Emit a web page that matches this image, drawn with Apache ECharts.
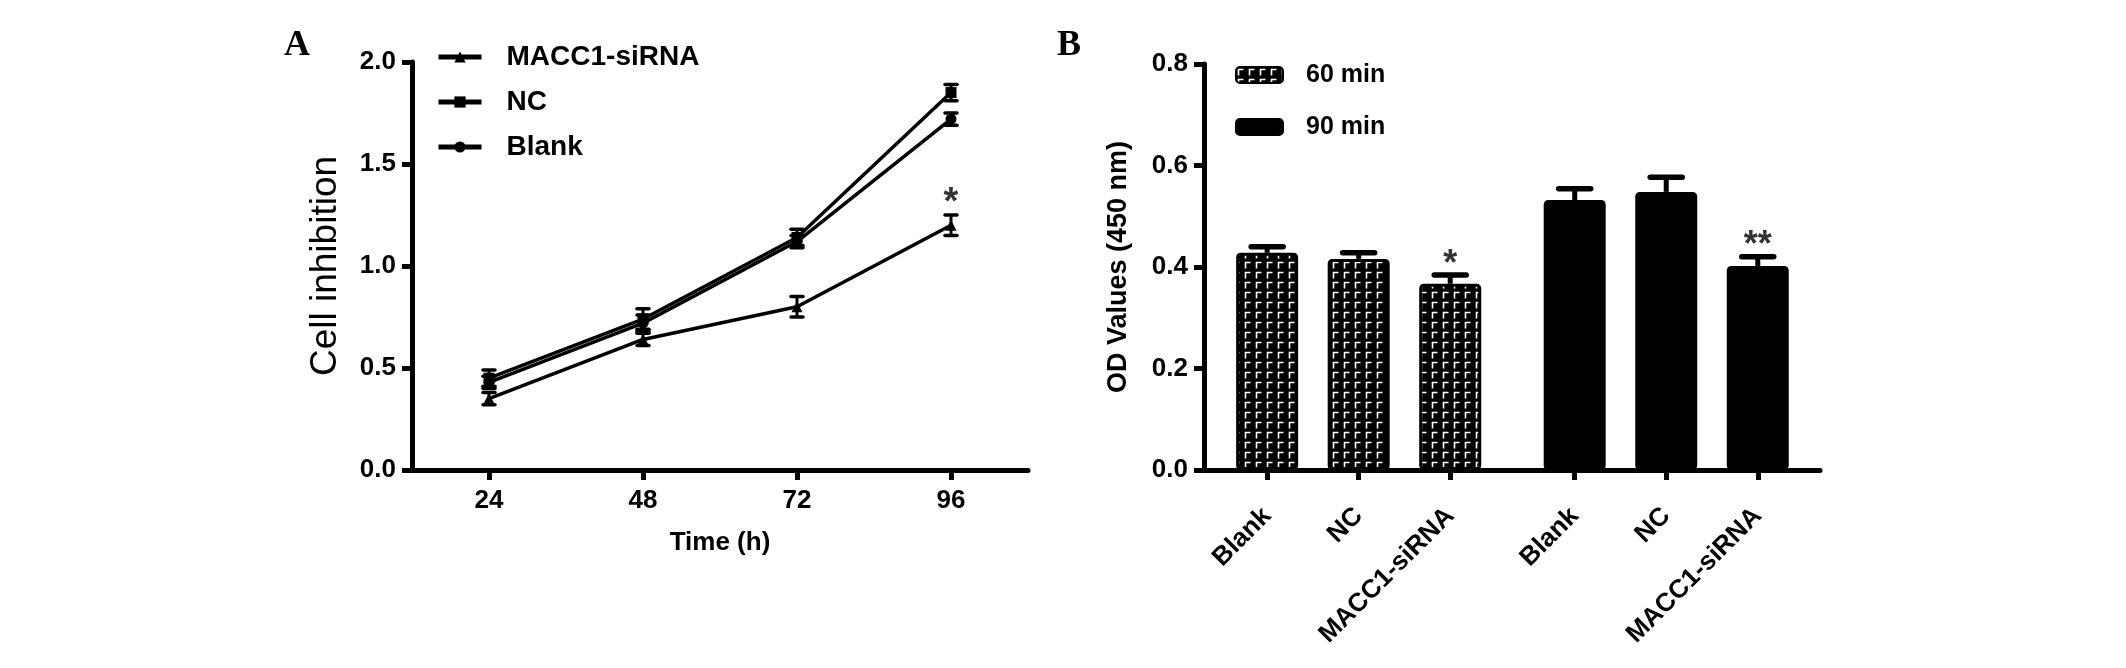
<!DOCTYPE html>
<html><head><meta charset="utf-8">
<script src="https://cdn.jsdelivr.net/npm/echarts@6/dist/echarts.min.js"></script>
<style>html,body{margin:0;padding:0;background:#fff}#c{width:2126px;height:668px}</style>
</head><body><div id="c"></div>
<script>
// ---- Panel A data ----
const times = [24, 48, 72, 96];
const maccMean = [0.35, 0.64, 0.80, 1.20];
const maccErr = [0.03, 0.03, 0.05, 0.05];
const ncMean = [0.45, 0.74, 1.14, 1.85];
const ncErr = [0.04, 0.05, 0.04, 0.04];
const blankMean = [0.43, 0.72, 1.12, 1.72];
const blankErr = [0.03, 0.04, 0.03, 0.03];
const maccSig = ['', '', '', '*'];
// ---- Panel B data ----
const groups = ['Blank', 'NC', 'MACC1-siRNA'];
const od60 = [0.428, 0.416, 0.367];
const err60 = [0.012, 0.012, 0.017];
const od90 = [0.532, 0.548, 0.402];
const err90 = [0.022, 0.029, 0.018];
const sig60 = ['', '', '*'];
const sig90 = ['', '', '**'];

const FONT = 'Liberation Sans, Arial, sans-serif';
const slot = (g, i) => 0.69 + g * 3.36 + i;
const pos60 = groups.map((_, i) => slot(0, i));
const pos90 = groups.map((_, i) => slot(1, i));
const allPos = pos60.concat(pos90);
const allNames = groups.concat(groups);

function makePattern() {
  const c = document.createElement('canvas');
  c.width = 11; c.height = 10;
  const g = c.getContext('2d');
  g.fillStyle = '#000'; g.fillRect(0, 0, 11, 10);
  g.strokeStyle = '#fff'; g.lineWidth = 1.6;
  g.beginPath(); g.moveTo(2.5, 8.5); g.lineTo(2.5, 2.5); g.lineTo(7.5, 2.5); g.stroke();
  return c;
}
const pattern = { image: makePattern(), repeat: 'repeat' };

function errRender(capW, upOnly, lw) {
  return function (params, api) {
    const x = api.value(0), y = api.value(1), e = api.value(2);
    const top = api.coord([x, y + e]);
    const bot = api.coord([x, upOnly ? y : y - e]);
    const st = { stroke: '#000', lineWidth: lw, lineCap: 'butt' };
    const cs = { stroke: '#000', lineWidth: lw + 0.5, lineCap: 'round' };
    const ch = [
      { type: 'line', shape: { x1: top[0], y1: top[1], x2: bot[0], y2: bot[1] }, style: st },
      { type: 'line', shape: { x1: top[0] - capW / 2, y1: top[1], x2: top[0] + capW / 2, y2: top[1] }, style: cs }
    ];
    if (!upOnly) ch.push({ type: 'line', shape: { x1: bot[0] - capW / 2, y1: bot[1], x2: bot[0] + capW / 2, y2: bot[1] }, style: cs });
    return { type: 'group', children: ch };
  };
}

function lineSeries(name, mean, symbol) {
  return {
    name, type: 'line', xAxisIndex: 0, yAxisIndex: 0,
    data: times.map((t, i) => [t, mean[i]]),
    symbol, symbolSize: 11, showSymbol: true,
    lineStyle: { color: '#000', width: 3.5 }, itemStyle: { color: '#000' },
    z: 3, animation: false
  };
}
function errSeries(mean, err) {
  return {
    type: 'custom', xAxisIndex: 0, yAxisIndex: 0,
    data: times.map((t, i) => [t, mean[i], err[i]]),
    renderItem: errRender(12, false, 3), z: 4, animation: false, silent: true
  };
}

const axisLineStyle = { lineStyle: { color: '#000', width: 5 } };
const tickStyle = { show: true, length: 10, lineStyle: { color: '#000', width: 5 } };
const labelStyle = { color: '#000', fontFamily: FONT, fontWeight: 'bold', fontSize: 26 };

const option = {
  animation: false,
  title: [
    { text: 'A', left: 284, top: 28, padding: 0, textStyle: { fontFamily: 'Liberation Serif, Times New Roman, serif', fontWeight: 'bold', fontSize: 36, color: '#000' } },
    { text: 'B', left: 1057, top: 28, padding: 0, textStyle: { fontFamily: 'Liberation Serif, Times New Roman, serif', fontWeight: 'bold', fontSize: 36, color: '#000' } }
  ],
  legend: [
    {
      data: ['MACC1-siRNA', 'NC', 'Blank'], orient: 'vertical', left: 436, top: 42,
      itemWidth: 43, itemHeight: 14, itemGap: 15, padding: 0,
      lineStyle: { width: 5, color: '#000' },
      textStyle: { color: '#000', fontFamily: FONT, fontWeight: 'bold', fontSize: 28, lineHeight: 30, padding: [0, 0, 0, 20] }
    },
    {
      data: ['60 min', '90 min'], orient: 'vertical', left: 1235, top: 60,
      itemWidth: 47, itemHeight: 16, itemGap: 22, padding: 0, icon: 'roundRect',
      textStyle: { color: '#000', fontFamily: FONT, fontWeight: 'bold', fontSize: 25, lineHeight: 30, padding: [0, 0, 0, 18] }
    }
  ],
  grid: [
    { left: 412, top: 62, width: 616, height: 408 },
    { left: 1204, top: 64, width: 616, height: 406 }
  ],
  xAxis: [
    {
      type: 'value', gridIndex: 0, min: 12, max: 108,
      name: 'Time (h)', nameLocation: 'middle', nameGap: 60,
      nameTextStyle: { color: '#000', fontFamily: FONT, fontWeight: 'bold', fontSize: 26 },
      axisLine: axisLineStyle,
      axisTick: Object.assign({ customValues: times }, tickStyle),
      axisLabel: Object.assign({ customValues: times, margin: 18 }, labelStyle),
      splitLine: { show: false }
    },
    {
      type: 'value', gridIndex: 1, min: 0, max: 6.73,
      axisLine: axisLineStyle,
      axisTick: Object.assign({ customValues: allPos }, tickStyle),
      axisLabel: Object.assign({
        customValues: allPos, rotate: 45, margin: 42,
        formatter: v => { const k = allPos.findIndex(p => Math.abs(p - v) < 1e-6); return k >= 0 ? allNames[k] : ''; }
      }, labelStyle),
      splitLine: { show: false }
    }
  ],
  yAxis: [
    {
      type: 'value', gridIndex: 0, min: 0, max: 2, interval: 0.5,
      name: 'Cell inhibition', nameLocation: 'middle', nameGap: 68,
      nameTextStyle: { color: '#000', fontFamily: FONT, fontSize: 37 },
      axisLine: axisLineStyle, axisTick: tickStyle,
      axisLabel: Object.assign({ margin: 16, formatter: v => v.toFixed(1) }, labelStyle),
      splitLine: { show: false }
    },
    {
      type: 'value', gridIndex: 1, min: 0, max: 0.8, interval: 0.2,
      name: 'OD Values (450 nm)', nameLocation: 'middle', nameGap: 72,
      nameTextStyle: { color: '#000', fontFamily: FONT, fontWeight: 'bold', fontSize: 27 },
      axisLine: axisLineStyle, axisTick: tickStyle,
      axisLabel: Object.assign({ margin: 16, formatter: v => v.toFixed(1) }, labelStyle),
      splitLine: { show: false }
    }
  ],
  series: [
    lineSeries('MACC1-siRNA', maccMean, 'triangle'),
    lineSeries('NC', ncMean, 'rect'),
    lineSeries('Blank', blankMean, 'circle'),
    errSeries(maccMean, maccErr),
    errSeries(ncMean, ncErr),
    errSeries(blankMean, blankErr),
    {
      type: 'scatter', xAxisIndex: 0, yAxisIndex: 0, symbolSize: 1, itemStyle: { color: 'rgba(0,0,0,0)' },
      data: times.map((t, i) => [t, maccMean[i] + maccErr[i]]),
      label: { show: true, position: 'top', distance: -8, formatter: p => maccSig[p.dataIndex], color: '#000', fontFamily: FONT, fontWeight: 'bold', fontSize: 38 },
      silent: true
    },
    {
      name: '60 min', type: 'bar', xAxisIndex: 1, yAxisIndex: 1, barWidth: 62, barGap: '-100%',
      data: pos60.map((p, i) => [p, od60[i]]),
      itemStyle: { color: pattern, borderColor: '#000', borderWidth: 3, borderRadius: 3 }
    },
    {
      name: '90 min', type: 'bar', xAxisIndex: 1, yAxisIndex: 1, barWidth: 62, barGap: '-100%',
      data: pos90.map((p, i) => [p, od90[i]]),
      itemStyle: { color: '#000', borderColor: '#000', borderWidth: 3, borderRadius: 3 }
    },
    {
      type: 'custom', xAxisIndex: 1, yAxisIndex: 1, renderItem: errRender(32, true, 5),
      data: pos60.map((p, i) => [p, od60[i], err60[i]]).concat(pos90.map((p, i) => [p, od90[i], err90[i]])),
      z: 4, silent: true
    },
    {
      type: 'scatter', xAxisIndex: 1, yAxisIndex: 1, symbolSize: 1, itemStyle: { color: 'rgba(0,0,0,0)' },
      data: pos60.map((p, i) => [p, od60[i] + err60[i]]).concat(pos90.map((p, i) => [p, od90[i] + err90[i]])),
      label: { show: true, position: 'top', distance: -8, formatter: p => sig60.concat(sig90)[p.dataIndex], color: '#000', fontFamily: FONT, fontWeight: 'bold', fontSize: 36 },
      silent: true
    }
  ]
};
const chart = echarts.init(document.getElementById('c'), null, { renderer: 'canvas' });
chart.setOption(option);
</script>
</body></html>
